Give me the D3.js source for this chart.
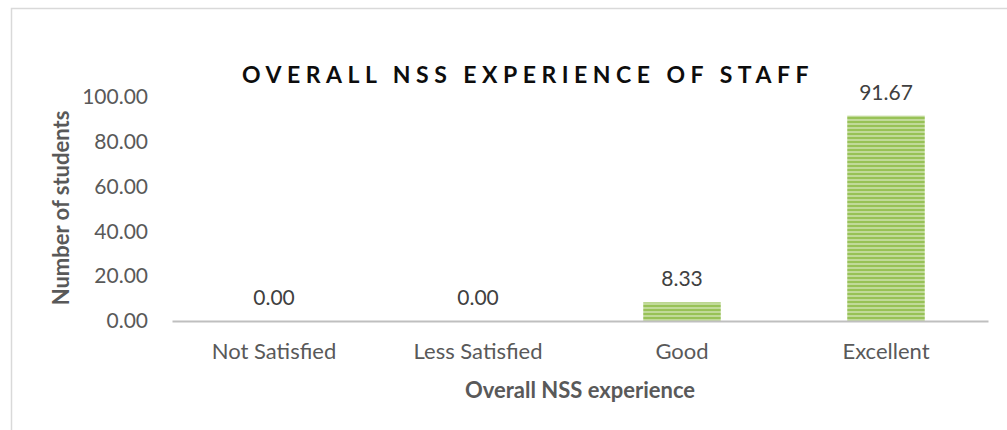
<!DOCTYPE html>
<html>
<head>
<meta charset="utf-8">
<script src="https://cdn.jsdelivr.net/npm/d3@7"></script>
<style>
  body { margin: 0; background: #fff; }
  svg { display: block; }
</style>
</head>
<body>
<div id="chart"></div>
<script>
// data
var categories = ["Not Satisfied", "Less Satisfied", "Good", "Excellent"];
var values = [0.00, 0.00, 8.33, 91.67];
var yTicks = [0, 20, 40, 60, 80, 100];

var W = 1007, H = 430;
var margin = {top: 97, right: 19, bottom: 109, left: 172},
    width = W - margin.left - margin.right,
    height = H - margin.top - margin.bottom;

var svg = d3.select("#chart")
    .append("svg")
    .attr("width", W)
    .attr("height", H);

// green striped fill like the office pattern
var defs = svg.append("defs");
var pat = defs.append("pattern")
    .attr("id", "stripes")
    .attr("patternUnits", "userSpaceOnUse")
    .attr("width", 8)
    .attr("height", 4);
pat.append("rect").attr("width", 8).attr("height", 4).attr("fill", "#98c257");
pat.append("rect").attr("y", 2.4).attr("width", 8).attr("height", 1.2).attr("fill", "#dcebc4");

// caption line of the page, cut off at the top
svg.append("text")
    .attr("x", 30)
    .attr("y", -5)
    .attr("font-family", "Liberation Serif")
    .attr("font-weight", "bold")
    .attr("font-size", 21)
    .attr("fill", "#222")
    .attr("textLength", 950)
    .text("Figure 9: Graphical representation of overall NSS experience of staff in percentage of pp");

// chart frame
svg.append("rect")
    .attr("x", 11.5)
    .attr("y", 8.5)
    .attr("width", 1010)
    .attr("height", 440)
    .attr("fill", "none")
    .attr("stroke", "#d9d9d9")
    .attr("stroke-width", 1.5);

svg.append("text")
    .attr("x", 528)
    .attr("y", 83)
    .attr("text-anchor", "middle")
    .attr("font-family", "Lato")
    .attr("font-weight", "bold")
    .attr("font-size", 23)
    .attr("letter-spacing", 5.5)
    .attr("fill", "#0d0d0d")
    .text("OVERALL NSS EXPERIENCE OF STAFF");

var g = svg.append("g")
    .attr("transform", "translate(" + margin.left + "," + margin.top + ")");

var x = d3.scaleBand()
    .domain(categories)
    .range([0, width])
    .paddingInner(0.62)
    .paddingOuter(0.31);

var y = d3.scaleLinear()
    .domain([0, 100])
    .range([height, 0]);

// y axis labels only, no line
var yAxis = g.append("g")
    .call(d3.axisLeft(y).tickValues(yTicks).tickSize(0).tickPadding(24).tickFormat(d3.format(".2f")));
yAxis.select(".domain").remove();
yAxis.selectAll("text")
    .attr("font-family", "Lato")
    .attr("font-size", 21)
    .attr("fill", "#595959");

// bars
g.selectAll(".bar")
    .data(values)
    .enter()
    .append("rect")
    .attr("class", "bar")
    .attr("x", function(d, i) { return x(categories[i]); })
    .attr("y", function(d) { return y(d); })
    .attr("width", x.bandwidth())
    .attr("height", function(d) { return y(0) - y(d); })
    .attr("fill", "url(#stripes)");

// x axis
var xAxis = g.append("g")
    .attr("transform", "translate(0," + height + ")")
    .call(d3.axisBottom(x).tickSize(0).tickPadding(22));
xAxis.select(".domain")
    .attr("stroke", "#bfbfbf")
    .attr("stroke-width", 2);
xAxis.selectAll("text")
    .attr("font-family", "Lato")
    .attr("font-size", 22)
    .attr("fill", "#595959");

// value labels
g.selectAll(".val")
    .data(values)
    .enter()
    .append("text")
    .attr("class", "val")
    .attr("x", function(d, i) { return x(categories[i]) + x.bandwidth() / 2; })
    .attr("y", function(d) { return y(d) - 16; })
    .attr("text-anchor", "middle")
    .attr("font-family", "Lato")
    .attr("font-size", 21)
    .attr("fill", "#404040")
    .text(function(d) { return d.toFixed(2); });

// axis titles
svg.append("text")
    .attr("x", margin.left + width / 2)
    .attr("y", 398)
    .attr("text-anchor", "middle")
    .attr("font-family", "Lato")
    .attr("font-weight", "bold")
    .attr("font-size", 22)
    .attr("fill", "#595959")
    .text("Overall NSS experience");

svg.append("text")
    .attr("transform", "translate(69,208) rotate(-90)")
    .attr("text-anchor", "middle")
    .attr("font-family", "Lato")
    .attr("font-weight", "bold")
    .attr("font-size", 22)
    .attr("fill", "#595959")
    .text("Number of students");
</script>
</body>
</html>
